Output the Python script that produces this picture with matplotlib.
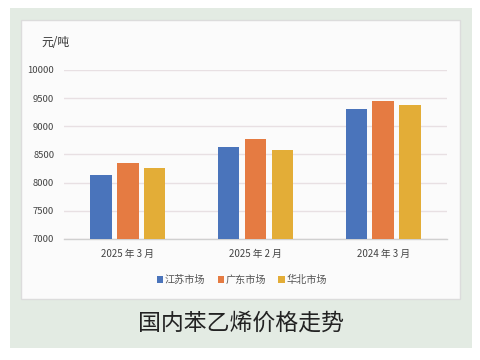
import matplotlib
matplotlib.use("Agg")
import matplotlib.pyplot as plt
import numpy as np
from matplotlib.patches import Rectangle

plt.rcParams['font.family'] = ['Noto Sans CJK SC', 'DejaVu Sans']

categories = ["2025 年 3 月", "2025 年 2 月", "2024 年 3 月"]
series_names = ["江苏市场", "广东市场", "华北市场"]
jiangsu = [8130, 8630, 9310]
guangdong = [8350, 8780, 9450]
huabei = [8260, 8580, 9370]
yticks = [7000, 7500, 8000, 8500, 9000, 9500, 10000]
colors = ["#4a74bb", "#e57b42", "#e3ad37"]

fig = plt.figure(figsize=(4.8, 3.6), dpi=100)
fig.patch.set_facecolor("white")
fig.patches.append(Rectangle((10/480, 1-348/360), 462/480, 340/360, transform=fig.transFigure,
                             facecolor="#e3ebe3", edgecolor="none", zorder=-2))
fig.patches.append(Rectangle((21/480, 1-299/360), 439/480, 279/360, transform=fig.transFigure,
                             facecolor="#fbfbfb", edgecolor="#dcdcdc", linewidth=1.0, zorder=-1))

ax = fig.add_axes([64/480, 1-239/360, 383/480, 169/360])
ax.set_facecolor("none")
x = np.arange(len(categories))
w = 0.168
step = 0.211
for i, (vals, name) in enumerate(zip([jiangsu, guangdong, huabei], series_names)):
    ax.bar(x + (i-1)*step, vals, width=w, color=colors[i], label=name, zorder=3)

ax.set_xlim(-0.5, 2.5)
ax.set_ylim(7000, 10000)
ax.set_yticks(yticks)
ax.set_yticklabels([str(v) for v in yticks], fontsize=6.8, color="#444444")
ax.set_xticks(x)
ax.set_xticklabels(categories, fontsize=7, color="#444444")
ax.tick_params(axis='both', length=0)
ax.tick_params(axis='y', pad=7)
ax.tick_params(axis='x', pad=7)
ax.grid(axis='y', color="#e8e0e3", linewidth=1, zorder=0)
for s in ["top", "right", "left"]:
    ax.spines[s].set_visible(False)
ax.spines["bottom"].set_color("#d0d0d0")
ax.spines["bottom"].set_linewidth(1)

fig.text(41/480, 1-43/360, "元/吨", fontsize=8.5, color="#333333", va="center", ha="left")

leg = fig.legend(loc="center", bbox_to_anchor=(242/480, 1-280/360), ncol=3, frameon=False,
                 fontsize=7.3, handlelength=0.6, handleheight=0.6, handletextpad=0.2,
                 columnspacing=1.2, labelcolor="#555555")

fig.text(241/480, 1-323/360, "国内苯乙烯价格走势", fontsize=16.5, color="#222222",
         ha="center", va="center")

fig.savefig("out.png", dpi=100)
